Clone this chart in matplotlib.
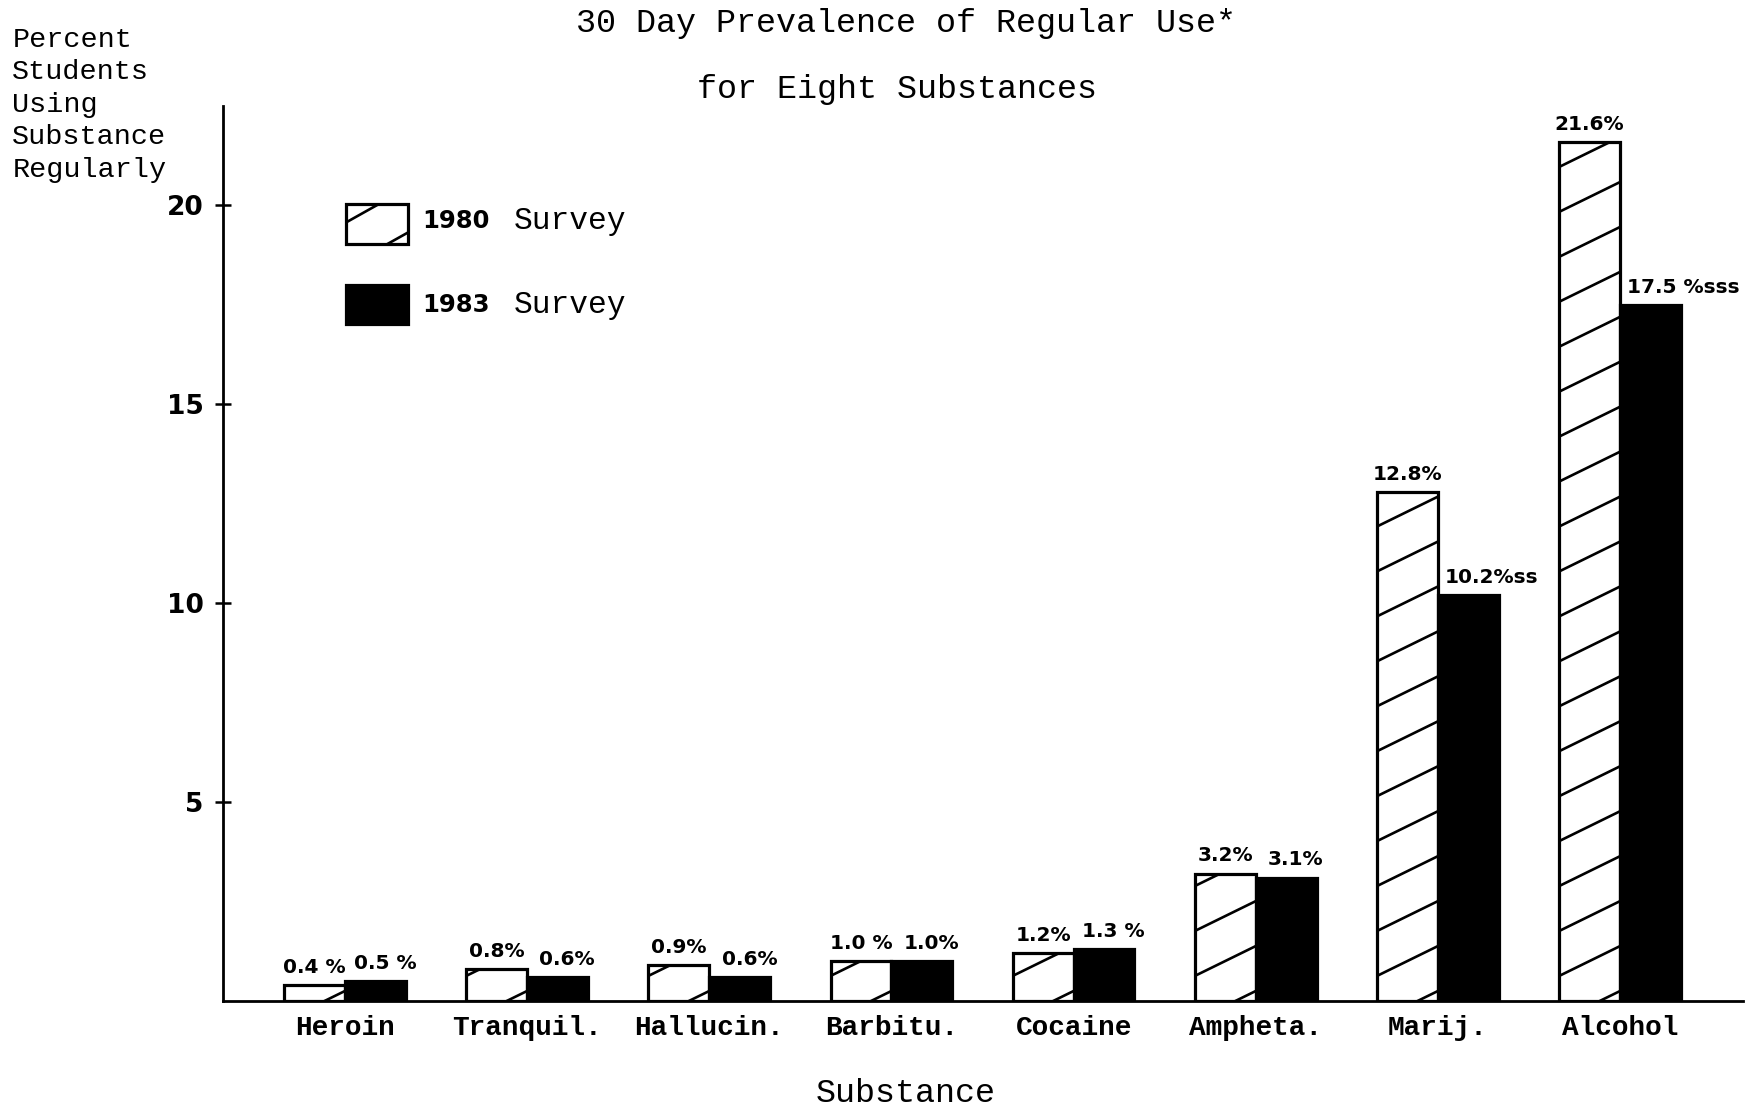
import numpy as np
import matplotlib.pyplot as plt
from matplotlib.patches import Rectangle
from matplotlib.collections import LineCollection

# data
substances = ['Heroin', 'Tranquil.', 'Hallucin.', 'Barbitu.', 'Cocaine', 'Ampheta.', 'Marij.', 'Alcohol']
survey_1980 = [0.4, 0.8, 0.9, 1.0, 1.2, 3.2, 12.8, 21.6]
survey_1983 = [0.5, 0.6, 0.6, 1.0, 1.3, 3.1, 10.2, 17.5]
labels_1980 = ['0.4 %', '0.8%', '0.9%', '1.0 %', '1.2%', '3.2%', '12.8%', '21.6%']
labels_1983 = ['0.5 %', '0.6%', '0.6%', '1.0%', '1.3 %', '3.1%', '10.2%ss', '17.5 %sss']
yticks = [5, 10, 15, 20]

MONO = 'Liberation Mono'
SANS = 'DejaVu Sans'


def hatch_rect(ax, x0, y0, w, h, rise, step, start, transform, clip):
    # sparse single-diagonal hatch, clipped to the rectangle
    segs = []
    c = start
    while c < h:
        segs.append([(x0, y0 + c), (x0 + w, y0 + c + rise)])
        c += step
    lc = LineCollection(segs, colors='black', linewidths=1.9, transform=transform)
    ax.add_collection(lc)
    lc.set_clip_path(clip)


fig = plt.figure(figsize=(17.52, 11.07), dpi=100)
ax = fig.add_axes([0.1273, 0.0958, 0.8676, 0.8084])

x = np.arange(len(substances))
w = 0.334

bars80 = ax.bar(x - w / 2, survey_1980, w, color='white', edgecolor='black', linewidth=2.3, zorder=2)
bars83 = ax.bar(x + w / 2, survey_1983, w, color='black', edgecolor='black', linewidth=2.3, zorder=2)

for b in bars80:
    hatch_rect(ax, b.get_x(), 0, b.get_width(), b.get_height(),
               rise=0.75, step=1.13, start=-0.5, transform=ax.transData, clip=b)

for b, lab in zip(bars80, labels_1980):
    ax.annotate(lab, (b.get_x() + b.get_width() / 2, b.get_height()), xytext=(0, 6),
                textcoords='offset points', ha='center', va='bottom',
                fontsize=14.5, fontweight='bold', family=SANS)
for b, lab in zip(bars83, labels_1983):
    if 'ss' in lab:
        ax.annotate(lab, (b.get_x(), b.get_height()), xytext=(5, 6),
                    textcoords='offset points', ha='left', va='bottom',
                    fontsize=14.5, fontweight='bold', family=SANS)
    else:
        ax.annotate(lab, (b.get_x() + b.get_width() / 2, b.get_height()), xytext=(7, 6),
                    textcoords='offset points', ha='center', va='bottom',
                    fontsize=14.5, fontweight='bold', family=SANS)

ax.set_xlim(-0.669, 7.675)
ax.set_ylim(0, 22.5)

for s in ['top', 'right']:
    ax.spines[s].set_visible(False)
ax.spines['left'].set_linewidth(2)
ax.spines['bottom'].set_linewidth(2)

ax.set_yticks(yticks)
ax.set_yticklabels([str(t) for t in yticks], fontsize=19, fontweight='bold', family=SANS)
ax.tick_params(axis='y', direction='inout', length=12, width=1.8, pad=8)
ax.set_xticks(x)
ax.set_xticklabels(substances, fontsize=20, fontweight='bold', family=MONO)
ax.tick_params(axis='x', length=0, pad=10)

ax.set_xlabel('Substance', fontsize=24, family=MONO)
ax.xaxis.set_label_coords(0.449, -0.103)
ax.xaxis.label.set_va('center')

# y axis caption at the top left
fig.text(0.007, 0.976, 'Percent\nStudents\nUsing\nSubstance\nRegularly', ha='left', va='top',
         fontsize=20.5, family=MONO, linespacing=1.33)

fig.text(0.517, 0.993, '30 Day Prevalence of Regular Use*', ha='center', va='top',
         fontsize=24, family=MONO)
fig.text(0.512, 0.933, 'for Eight Substances', ha='center', va='top',
         fontsize=24, family=MONO)

# hand-drawn legend
box80 = Rectangle((0.081, 0.846), 0.041, 0.0445, transform=ax.transAxes,
                  facecolor='white', edgecolor='black', linewidth=2.3, clip_on=False)
ax.add_patch(box80)
hatch_rect(ax, 0.081, 0.846, 0.041, 0.0445, rise=0.039, step=0.050, start=-0.026,
           transform=ax.transAxes, clip=box80)
box83 = Rectangle((0.081, 0.756), 0.041, 0.044, transform=ax.transAxes,
                  facecolor='black', edgecolor='black', linewidth=2.3, clip_on=False)
ax.add_patch(box83)

for yy, yr in [(0.872, '1980'), (0.778, '1983')]:
    ax.text(0.131, yy, yr, transform=ax.transAxes, ha='left', va='center',
            fontsize=17.5, fontweight='bold', family=SANS)
    ax.text(0.191, yy, 'Survey', transform=ax.transAxes, ha='left', va='center',
            fontsize=22.5, family=MONO)

fig.savefig('out.png', dpi=100, facecolor='white')
